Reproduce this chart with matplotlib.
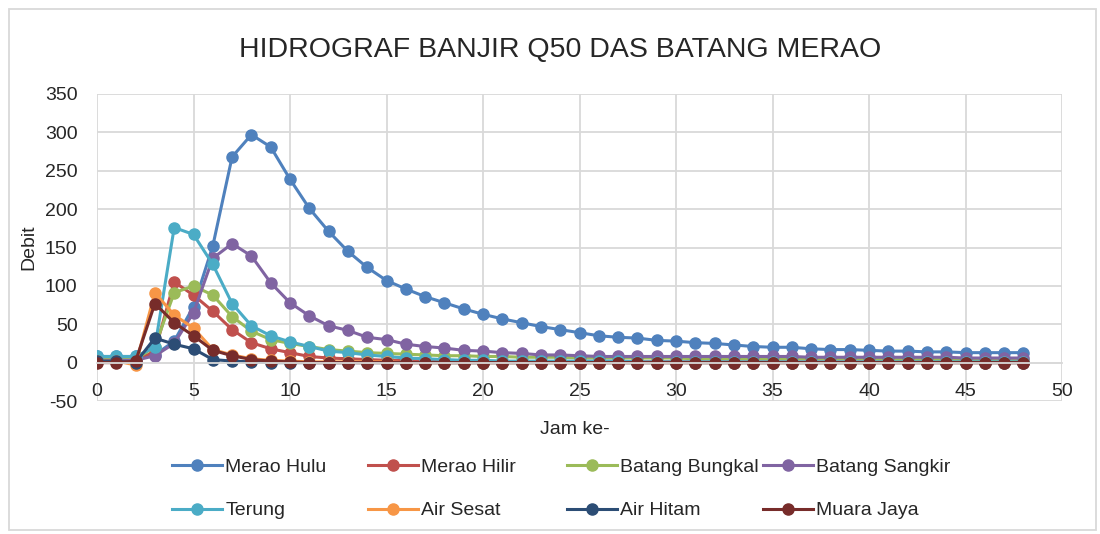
import matplotlib.pyplot as plt
from matplotlib.patches import Rectangle
from matplotlib.lines import Line2D

plt.rcParams['font.family'] = ['Liberation Sans', 'DejaVu Sans']
plt.rcParams['axes.unicode_minus'] = False

## data
jam = list(range(49))
series_names = ['Merao Hulu', 'Merao Hilir', 'Batang Bungkal', 'Batang Sangkir',
                'Terung', 'Air Sesat', 'Air Hitam', 'Muara Jaya']
merao_hulu = [8, 8, 8, 10, 28, 73, 152, 268, 297, 281, 239, 201, 171, 145, 124, 107,
              96, 86, 78, 70, 63, 57, 52, 47, 43, 39, 35, 33, 32, 29, 28, 26, 25, 23,
              21, 20, 20, 18, 17, 17, 16, 15, 15, 14, 14, 13, 13, 13, 13]
merao_hilir = [2, 2, 2, 15, 105, 88, 67, 43, 26, 18, 13, 8, 6, 5, 4, 3, 3, 2, 2, 2,
               2, 1, 1, 1, 1, 1, 1, 1, 1, 1, 1, 1, 1, 1, 1, 1, 1, 1, 1, 1, 1, 1, 1,
               1, 1, 1, 1, 1, 1]
batang_bungkal = [4, 4, 4, 21, 91, 100, 88, 60, 41, 30, 25, 21, 17, 15, 13, 12, 11,
                  10, 9, 9, 8, 8, 7, 7, 7, 6, 6, 6, 6, 6, 6, 5, 5, 5, 5, 5, 5, 5, 5,
                  5, 5, 4, 4, 4, 4, 4, 4, 4, 4]
batang_sangkir = [3, 3, 3, 9, 25, 65, 136, 155, 139, 104, 78, 61, 48, 42, 33, 30, 24,
                  21, 19, 16, 15, 13, 12, 10, 10, 9, 8, 8, 8, 8, 8, 8, 8, 8, 8, 8, 8,
                  7, 7, 7, 7, 7, 7, 7, 7, 6, 6, 6, 6]
terung = [8, 8, 8, 20, 176, 167, 128, 77, 48, 35, 27, 21, 15, 13, 10, 8, 6, 5, 4, 3,
          3, 2, 2, 2, 2, 2, 2, 2, 1, 1, 1, 1, 1, 1, 1, 1, 1, 1, 1, 1, 1, 1, 1, 1, 1,
          1, 1, 1, 1]
air_sesat = [2, 2, -3, 91, 62, 45, 17, 10, 5, 3, 2, 1, 1, 1, 1, 1, 0, 0, 0, 0, 0, 0,
             0, 0, 0, 0, 0, 0, 0, 0, 0, 0, 0, 0, 0, 0, 0, 0, 0, 0, 0, 0, 0, 0, 0, 0,
             0, 0, 0]
air_hitam = [2, 2, 0, 32, 24, 18, 4, 2, 1, 0, 0, 0, 0, 0, 0, 0, 0, 0, 0, 0, 0, 0, 0,
             0, 0, 0, 0, 0, 0, 0, 0, 0, 0, 0, 0, 0, 0, 0, 0, 0, 0, 0, 0, 0, 0, 0, 0,
             0, 0]
muara_jaya = [0, 0, 2, 77, 52, 35, 16, 9, 4, 2, 1, 0, 0, 0, 0, 0, 0, 0, 0, 0, 0, 0, 0,
              0, 0, 0, 0, 0, 0, 0, 0, 0, 0, 0, 0, 0, 0, 0, 0, 0, 0, 0, 0, 0, 0, 0, 0,
              0, 0]
semua = [merao_hulu, merao_hilir, batang_bungkal, batang_sangkir,
         terung, air_sesat, air_hitam, muara_jaya]
warna = ['#4F81BD', '#C0504D', '#9BBB59', '#8064A2',
         '#4BACC6', '#F79646', '#2C4D75', '#772C2A']

fig = plt.figure(figsize=(11, 5.34), dpi=100)
ax = fig.add_axes([97 / 1100, 1 - 401 / 534, 965 / 1100, 307 / 534])

for nilai, nama, c in zip(semua, series_names, warna):
    ax.plot(jam, nilai, '-o', color=c, lw=2.2, ms=8, label=nama)

ax.set_xlim(0, 50)
ax.set_ylim(-50, 350)
ax.set_xticks(range(0, 51, 5))
ax.set_yticks(range(-50, 351, 50))
ax.grid(True, color='#D9D9D9', lw=1.3)
ax.set_axisbelow(True)
for s in ['top', 'right', 'left']:
    ax.spines[s].set_visible(False)
ax.spines['bottom'].set_position(('data', 0))
ax.spines['bottom'].set_color('#D9D9D9')
ax.spines['bottom'].set_linewidth(1.3)
ax.tick_params(axis='both', length=0, labelsize=14)
ax.tick_params(axis='x', pad=15)
ax.tick_params(axis='y', pad=14)
for lab in ax.get_xticklabels() + ax.get_yticklabels():
    lab.set_color('#262626')

fig.text(0.509, 1 - 50 / 534, 'HIDROGRAF BANJIR Q50 DAS BATANG MERAO',
         ha='center', va='center', fontsize=20.5, color='#262626')
fig.text(29 / 1100, 1 - 247 / 534, 'Debit', rotation=90, ha='center', va='center',
         fontsize=14, color='#262626')
fig.text(575 / 1100, 1 - 430 / 534, 'Jam ke-', ha='center', va='center',
         fontsize=14, color='#262626')

# legenda: 4 kolom, 2 baris
kolom_x = [172, 368, 567, 763]
for k in range(4):
    idx = [k, k + 4]
    handles = [Line2D([], [], color=warna[i], lw=2.2, marker='o', ms=8) for i in idx]
    fig.legend(handles, [series_names[i] for i in idx], loc='upper left',
               bbox_to_anchor=(kolom_x[k] / 1100, 1 - 458 / 534), frameon=False,
               fontsize=14, handlelength=2.55, handletextpad=0.2,
               labelspacing=1.35, borderpad=0, borderaxespad=0,
               labelcolor='#262626')

fig.patches.append(Rectangle((9 / 1100, 4 / 534), 1087 / 1100, 521 / 534,
                             transform=fig.transFigure, fill=False,
                             edgecolor='#D9D9D9', lw=1.3))

fig.savefig('out.png', dpi=100)
